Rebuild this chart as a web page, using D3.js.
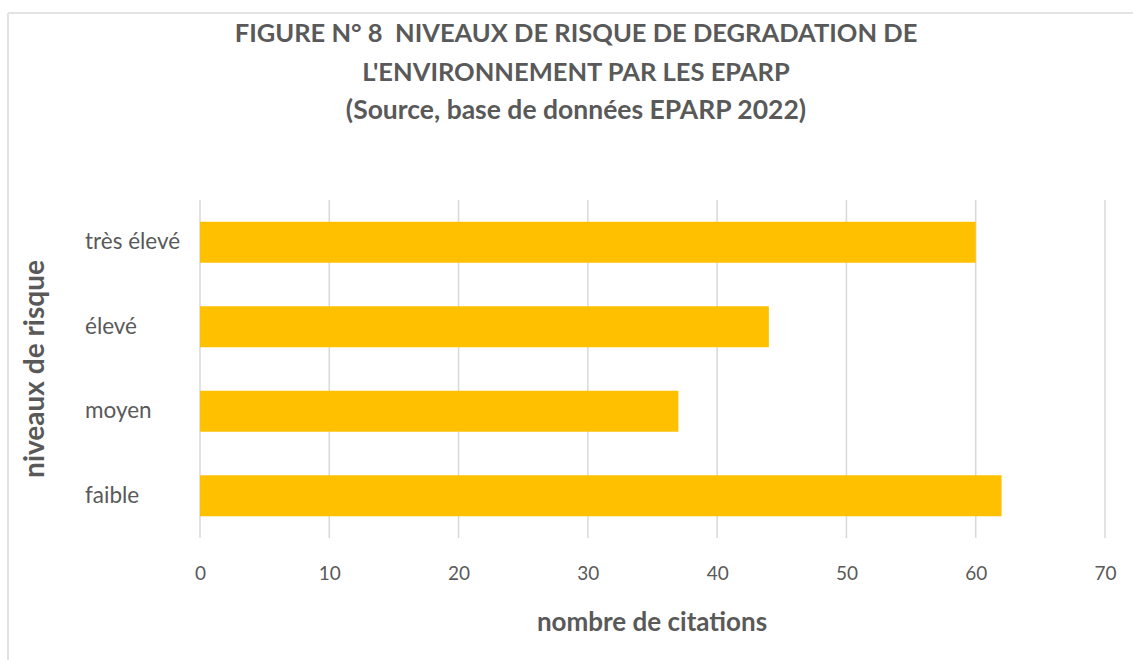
<!DOCTYPE html>
<html>
<head>
<meta charset="utf-8">
<script src="https://cdn.jsdelivr.net/npm/d3@7"></script>
<style>
    body { margin: 0; background: #fff; }
    text { font-family: Lato, 'Noto Sans', sans-serif; fill: #595959; }
</style>
</head>
<body>
<script>
const categories = ['très élevé', 'élevé', 'moyen', 'faible'];
const citations = [60, 44, 37, 62];
const xTicks = [0, 10, 20, 30, 40, 50, 60, 70];
const titleLines = [
    'FIGURE N° 8  NIVEAUX DE RISQUE DE DEGRADATION DE',
    "L'ENVIRONNEMENT PAR LES EPARP",
    '(Source, base de données EPARP 2022)'
];

const width = 1133, height = 660;
const plot = {left: 200, right: 1105, top: 200, bottom: 538};

const svg = d3.select('body')
    .append('svg')
    .attr('width', width)
    .attr('height', height);

// light frame of the chart area (only left and top visible)
svg.append('line')
    .attr('x1', 8).attr('y1', 13).attr('x2', 8).attr('y2', height)
    .style('stroke', '#e3e3e3').style('stroke-width', 2);
svg.append('line')
    .attr('x1', 8).attr('y1', 13).attr('x2', width).attr('y2', 13)
    .style('stroke', '#e3e3e3').style('stroke-width', 2);

const x = d3.scaleLinear()
    .domain([0, 70])
    .range([plot.left, plot.right]);

const y = d3.scaleBand()
    .domain(categories)
    .range([plot.top, plot.bottom])
    .paddingInner(0.515)
    .paddingOuter(0.2575);

// vertical gridlines
svg.selectAll('.grid')
    .data(xTicks)
    .enter()
    .append('line')
    .classed('grid', true)
    .attr('x1', d => x(d))
    .attr('x2', d => x(d))
    .attr('y1', plot.top)
    .attr('y2', plot.bottom)
    .style('stroke', '#d9d9d9')
    .style('stroke-width', 1.5);

svg.selectAll('.bar')
    .data(categories)
    .enter()
    .append('rect')
    .classed('bar', true)
    .attr('x', x(0))
    .attr('y', d => y(d))
    .attr('width', (d, i) => x(citations[i]) - x(0))
    .attr('height', y.bandwidth())
    .attr('fill', '#ffc000');

// x axis labels
const xAxis = svg.append('g')
    .attr('transform', 'translate(0,' + plot.bottom + ')')
    .call(d3.axisBottom(x).tickValues(xTicks).tickSize(0).tickPadding(29));
xAxis.select('.domain').remove();
xAxis.selectAll('text')
    .style('font-size', '19px')
    .style('fill', '#595959');

// y axis labels, left aligned like the original
const yAxis = svg.append('g')
    .attr('transform', 'translate(' + plot.left + ',0)')
    .call(d3.axisLeft(y).tickSize(0));
yAxis.select('.domain').remove();
yAxis.selectAll('text')
    .attr('x', 85 - plot.left)
    .attr('text-anchor', 'start')
    .style('font-size', '22.5px')
    .style('fill', '#595959');

svg.append('text')
    .attr('x', 652)
    .attr('y', 631)
    .attr('text-anchor', 'middle')
    .style('font-size', '26px')
    .style('font-weight', 'bold')
    .text('nombre de citations');

svg.append('text')
    .attr('transform', 'translate(44,369) rotate(-90)')
    .attr('text-anchor', 'middle')
    .style('font-size', '28px')
    .style('font-weight', 'bold')
    .text('niveaux de risque');

svg.selectAll('.title')
    .data(titleLines)
    .enter()
    .append('text')
    .classed('title', true)
    .attr('x', 576)
    .attr('y', (d, i) => 42 + i * 38.5)
    .attr('text-anchor', 'middle')
    .style('white-space', 'pre')
    .style('font-size', (d, i) => i === 2 ? '26.5px' : '25.5px')
    .style('font-weight', 'bold')
    .text(d => d);
</script>
</body>
</html>
